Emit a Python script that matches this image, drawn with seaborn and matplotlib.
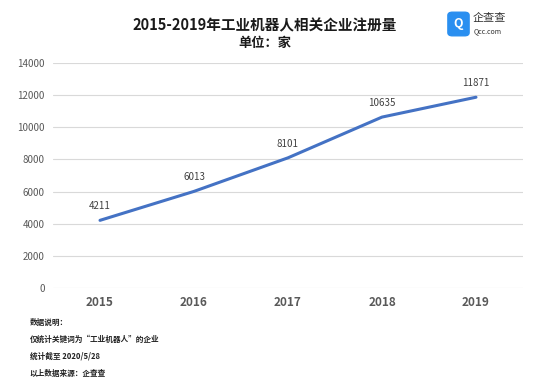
import matplotlib.pyplot as plt
import matplotlib.patches as mpatches
import seaborn as sns
import pandas as pd

years = ["2015", "2016", "2017", "2018", "2019"]
counts = [4211, 6013, 8101, 10635, 11871]
y_ticks = [0, 2000, 4000, 6000, 8000, 10000, 12000, 14000]
notes = ["数据说明：", "仅统计关键词为“工业机器人”的企业", "统计截至 2020/5/28", "以上数据来源：企查查"]

sns.set_style("white")
plt.rcParams['font.family'] = ['Noto Sans CJK SC', 'DejaVu Sans']

df = pd.DataFrame({'Year': years, 'Count': counts})

fig = plt.figure(figsize=(5.54, 3.88), dpi=100)
ax = fig.add_axes([0.0957, 0.2577, 0.8483, 0.5799])

sns.lineplot(data=df, x='Year', y='Count', ax=ax, color="#4472C4", linewidth=2.2, sort=False)

for i, v in enumerate(counts):
    ax.annotate(str(v), (i, v), xytext=(0, 6.5), textcoords='offset points',
                ha='center', va='bottom', fontsize=7, color="#404040")

ax.set_xlim(-0.5, 4.5)
ax.set_ylim(0, 14000)
ax.set_yticks(y_ticks)
ax.set_yticklabels([str(t) for t in y_ticks], fontsize=7, color="#595959")
ax.set_xticks(range(len(years)))
ax.set_xticklabels(years, fontsize=8.5, color="#595959", fontweight='bold')
ax.tick_params(axis='both', length=0, pad=6)
ax.yaxis.grid(True, color="#d9d9d9", linewidth=0.8)
ax.set_axisbelow(True)
for s in ax.spines.values():
    s.set_visible(False)
ax.set_xlabel("")
ax.set_ylabel("")

fig.text(0.478, 0.935, "2015-2019年工业机器人相关企业注册量", ha='center', va='center',
         fontsize=10.5, fontweight='bold', color="#1a1a1a")
fig.text(0.478, 0.888, "单位：家", ha='center', va='center',
         fontsize=9.5, fontweight='bold', color="#1a1a1a")

for i, t in enumerate(notes):
    fig.text(0.054, 1 - (322 + i * 17) / 388, t, ha='left', va='center',
             fontsize=5.5, fontweight='bold', color="#222222")

# logo
logo = mpatches.FancyBboxPatch((449 / 554, 1 - 35 / 388), 19 / 554, 22 / 388,
                               boxstyle="round,pad=0.002,rounding_size=0.008",
                               transform=fig.transFigure, color="#2a8ff0")
fig.patches.append(logo)
fig.text(458.5 / 554, 1 - 24 / 388, "Q", ha='center', va='center', fontsize=9,
         color="white", fontweight='bold')
fig.text(473 / 554, 1 - 18 / 388, "企查查", ha='left', va='center', fontsize=8, color="#333333")
fig.text(474 / 554, 1 - 31 / 388, "Qcc.com", ha='left', va='center', fontsize=5, color="#333333")

fig.savefig("out.png", dpi=100)
